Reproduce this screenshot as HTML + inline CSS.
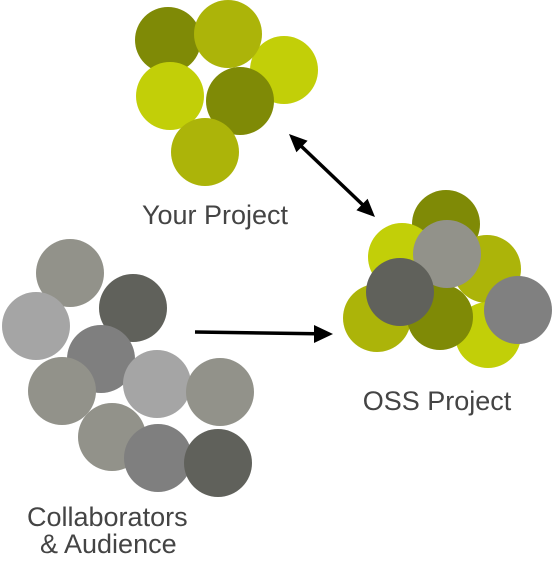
<!DOCTYPE html><html><head><style>body{margin:0;background:#fff}svg{display:block}</style></head><body>
<svg width="554" height="566" viewBox="0 0 554 566" xmlns="http://www.w3.org/2000/svg">
<g>
<circle cx="168" cy="40" r="33" fill="#7f8a06"/>
<circle cx="284" cy="70" r="34" fill="#c2cf08"/>
<circle cx="228" cy="34" r="34" fill="#acb409"/>
<circle cx="170" cy="96" r="34" fill="#c2cf08"/>
<circle cx="240" cy="101" r="34" fill="#7f8a06"/>
<circle cx="205" cy="152" r="34" fill="#acb409"/>
</g>
<g>
<circle cx="446" cy="224" r="34" fill="#7f8a06"/>
<circle cx="402" cy="257" r="34" fill="#c2cf08"/>
<circle cx="487" cy="269" r="34" fill="#acb409"/>
<circle cx="488" cy="335" r="33" fill="#c2cf08"/>
<circle cx="377" cy="318" r="34" fill="#acb409"/>
<circle cx="440" cy="317" r="33" fill="#7f8a06"/>
<circle cx="447" cy="254" r="34" fill="#92928a"/>
<circle cx="400" cy="292" r="34" fill="#60615b"/>
<circle cx="518" cy="310" r="34" fill="#808080"/>
</g>
<g>
<circle cx="70" cy="273" r="34" fill="#92928a"/>
<circle cx="36" cy="326" r="34" fill="#a5a5a5"/>
<circle cx="133" cy="308" r="34" fill="#60615b"/>
<circle cx="101" cy="359" r="34" fill="#7f7f7f"/>
<circle cx="62" cy="391" r="34" fill="#92928a"/>
<circle cx="157" cy="384" r="34" fill="#a5a5a5"/>
<circle cx="220" cy="392" r="34" fill="#92928a"/>
<circle cx="112" cy="437" r="34" fill="#92928a"/>
<circle cx="158" cy="458" r="34" fill="#7f7f7f"/>
<circle cx="218" cy="463" r="34" fill="#60615b"/>
</g>
<line x1="300" y1="145" x2="364" y2="206" stroke="#000" stroke-width="3.5"/>
<polygon points="289,134 296.4,152.3 307.6,140.7" fill="#000"/>
<polygon points="375,217 356.4,210.3 367.6,198.7" fill="#000"/>
<line x1="195" y1="332" x2="316" y2="333.7" stroke="#000" stroke-width="3.5"/>
<polygon points="333,334 314,325 314,343" fill="#000"/>
<g font-family="Liberation Sans, sans-serif" font-size="27" fill="#444">
<text x="215" y="224" text-anchor="middle">Your Project</text>
<text x="437" y="410" text-anchor="middle">OSS Project</text>
<text x="27" y="526">Collaborators</text>
<text x="40" y="553">&amp; Audience</text>
</g>
</svg>
</body></html>
